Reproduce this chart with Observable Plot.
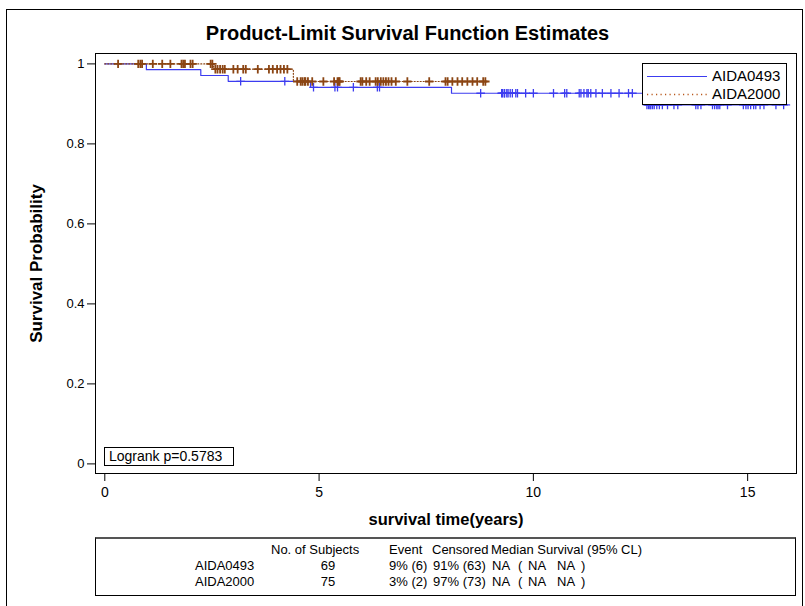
<!DOCTYPE html>
<html><head><meta charset="utf-8">
<script src="https://cdn.jsdelivr.net/npm/d3@7"></script>
<script src="https://cdn.jsdelivr.net/npm/@observablehq/plot@0.6"></script>
<style>
body{margin:0;background:#fff;font-family:"Liberation Sans",Arial,sans-serif;color:#000;}
#wrap{position:relative;width:805px;height:606px;overflow:hidden;background:#fff;}
#frame{position:absolute;left:6px;top:9px;width:797px;height:640px;border:1px solid #000;box-sizing:border-box;}
#title{position:absolute;left:0;width:815px;top:22px;text-align:center;font-weight:bold;font-size:20px;}
#chart{position:absolute;left:0;top:0;}
#legend{position:absolute;left:642px;top:63px;width:145px;height:42px;border:1px solid #000;background:#fff;box-sizing:border-box;font-size:15px;}
#legend .row{position:absolute;left:0;height:20px;line-height:20px;}
#legend .lab{position:absolute;left:69px;}
#logrank{position:absolute;left:104px;top:447px;width:130px;height:19px;border:1px solid #000;box-sizing:border-box;font-size:14px;line-height:17px;padding-left:4px;background:#fff;}
#table{position:absolute;left:95px;top:537px;width:701px;height:59px;border:1px solid #000;border-top:2px solid #555;box-sizing:border-box;font-size:13px;}
#table span{position:absolute;white-space:pre;}
</style>
</head><body>
<div id="wrap">
  <div id="frame"></div>
  <div id="title">Product-Limit Survival Function Estimates</div>
  <div id="chart"></div>
  <div id="legend"></div>
  <div id="logrank"></div>
  <div id="table"></div>
</div>
<script>
// ---------- data ----------
const groups = ["AIDA0493", "AIDA2000"];
const colors = ["#3c3cf0", "#8b4513"];

// step (event) times and survival after each event
const eventTimes0493 = [0.97, 2.24, 2.88, 4.80, 8.09, 12.60];
const survival0493   = [0.9855, 0.9710, 0.9565, 0.9415, 0.9266, 0.8975];
const lastTime0493   = 15.98;

const eventTimes2000 = [2.54, 4.40];
const survival2000   = [0.9867, 0.9560];
const lastTime2000   = 8.88;

// censored times
const censored0493 = [3.17, 4.20,
  4.87, 5.37, 5.43, 5.80, 6.36, 6.41,
  8.77, 9.26, 9.28, 9.32, 9.33, 9.38, 9.41, 9.46, 9.51, 9.59, 9.63, 9.82, 10.00, 10.47, 10.73, 10.78,
  11.07, 11.11, 11.18, 11.25, 11.28, 11.34, 11.46, 11.61, 11.81, 12.00, 12.22, 12.31,
  12.65, 12.69, 12.72, 12.74, 12.78, 12.82, 12.88, 12.94, 13.01, 13.13, 13.28, 13.37,
  13.79, 13.84, 13.91, 14.18, 14.23, 14.28, 14.31, 14.35, 14.53,
  14.90, 14.96, 15.01, 15.07, 15.14, 15.19, 15.29, 15.38, 15.66, 15.84];
const censored2000 = [0.31, 0.78, 0.83, 0.87, 1.12, 1.34, 1.53, 1.79, 1.83, 1.87, 2.00, 2.05, 2.47, 2.51,
  2.58, 2.63, 2.69, 2.75, 2.80, 3.00, 3.10, 3.23, 3.29, 3.57, 3.83, 3.92, 4.02, 4.10, 4.18, 4.26,
  4.49, 4.57, 4.61, 4.66, 4.68, 4.74, 4.84, 5.10, 5.35, 5.43, 5.46, 5.48, 5.97, 6.01, 6.10, 6.18,
  6.32, 6.37, 6.44, 6.50, 6.56, 6.62, 6.69, 6.79, 7.06, 7.57, 7.95, 8.00, 8.11, 8.23, 8.34, 8.46,
  8.58, 8.69, 8.83, 8.88];

const xTicks = [0, 5, 10, 15];
const yTicks = [0, 0.2, 0.4, 0.6, 0.8, 1];

const logrankText = "Logrank p=0.5783";
const tableHeader = ["No. of Subjects", "Event", "Censored", "Median Survival (95% CL)"];
const nSubjects = [69, 75];
const eventCol = ["9% (6)", "3% (2)"];
const censoredCol = ["91% (63)", "97% (73)"];
const medianCol = ["NA", "NA"];
const lowerCL = ["NA", "NA"];
const upperCL = ["NA", "NA"];

// ---------- build ----------
function stepPoints(g, times, surv, last) {
  const pts = [{g, t: 0, s: 1}];
  times.forEach((t, i) => pts.push({g, t, s: surv[i]}));
  pts.push({g, t: last, s: surv[surv.length - 1]});
  return pts;
}
function survAt(times, surv, t) {
  let s = 1;
  times.forEach((e, i) => { if (e <= t) s = surv[i]; });
  return s;
}
const lines = [
  ...stepPoints(groups[0], eventTimes0493, survival0493, lastTime0493),
  ...stepPoints(groups[1], eventTimes2000, survival2000, lastTime2000)
];
const cens = [
  ...censored0493.map(t => ({g: groups[0], t, s: survAt(eventTimes0493, survival0493, t)})),
  ...censored2000.map(t => ({g: groups[1], t, s: survAt(eventTimes2000, survival2000, t)}))
];
const plusSym = {draw(ctx, size) { const r = Math.sqrt(size / Math.PI); ctx.moveTo(-r, 0); ctx.lineTo(r, 0); ctx.moveTo(0, -r); ctx.lineTo(0, r); }};

const chart = Plot.plot({
  width: 805,
  height: 530,
  marginTop: 53,
  marginLeft: 95,
  marginRight: 9,
  marginBottom: 57,
  style: {background: "transparent", fontFamily: "Liberation Sans, Arial, sans-serif", fontSize: "13px", color: "#000"},
  x: {domain: [-0.217, 16.14]},
  y: {domain: [-0.024, 1.026]},
  color: {domain: groups, range: colors},
  marks: [
    Plot.frame({stroke: "#000"}),
    Plot.axisX({ticks: xTicks, tickSize: 8, tickPadding: 6, fontSize: 14, label: "survival time(years)", labelAnchor: "center", labelOffset: 51, labelArrow: "none"}),
    Plot.axisY({ticks: yTicks, tickSize: 8, tickPadding: 3, fontSize: 13, tickFormat: d => String(+d.toFixed(1)), label: "Survival Probability", labelAnchor: "center", labelOffset: 66, labelArrow: "none"}),
    Plot.line(lines.filter(d => d.g === groups[0]), {x: "t", y: "s", curve: "step-after", stroke: colors[0], strokeWidth: 1.2}),
    Plot.line(lines.filter(d => d.g === groups[1]), {x: "t", y: "s", curve: "step-after", stroke: colors[1], strokeWidth: 1.2, strokeDasharray: "1,2"}),
    Plot.dot(cens.filter(d => d.g === groups[0]), {x: "t", y: "s", symbol: plusSym, r: 4.3, stroke: colors[0], strokeWidth: 1.3}),
    Plot.dot(cens.filter(d => d.g === groups[1]), {x: "t", y: "s", symbol: plusSym, r: 4.2, stroke: colors[1], strokeWidth: 1.8})
  ]
});
document.getElementById("chart").appendChild(chart);
d3.select(chart).selectAll('[aria-label="x-axis label"] text').style("font-weight", "bold").style("font-size", "16.5px");
d3.select(chart).selectAll('[aria-label="y-axis label"] text').style("font-weight", "bold").style("font-size", "17px");

// legend
const leg = document.getElementById("legend");
groups.forEach((g, i) => {
  const row = document.createElement("div");
  row.className = "row";
  row.style.top = (i === 0 ? 2 : 20) + "px";
  row.style.width = "143px";
  row.innerHTML = `<svg width="66" height="20" style="position:absolute;left:0;top:0"><line x1="4" x2="64" y1="10.5" y2="10.5" stroke="${i === 1 ? '#b8581c' : colors[i]}" stroke-width="${i === 1 ? 1.4 : 1}" ${i === 1 ? 'stroke-dasharray="1.2,3.3"' : ''}/></svg><span class="lab">${g}</span>`;
  leg.appendChild(row);
});
document.getElementById("logrank").textContent = logrankText;

// table
const tb = document.getElementById("table");
function cell(text, left, top, align) {
  const s = document.createElement("span");
  s.textContent = text;
  s.style.top = top + "px";
  if (align === "center") { s.style.left = (left - 50) + "px"; s.style.width = "100px"; s.style.textAlign = "center"; }
  else s.style.left = left + "px";
  tb.appendChild(s);
}
const hx = [175, 293, 336, 395];
tableHeader.forEach((h, i) => cell(h, hx[i], 3));
groups.forEach((g, i) => {
  const top = 19 + i * 16;
  cell(g, 99, top);
  cell(String(nSubjects[i]), 232, top, "center");
  cell(eventCol[i], 293, top);
  cell(censoredCol[i], 337, top);
  cell(medianCol[i], 396, top);
  cell("(", 422, top);
  cell(lowerCL[i], 432, top);
  cell(upperCL[i], 461, top);
  cell(")", 485, top);
});
</script>
</body></html>
